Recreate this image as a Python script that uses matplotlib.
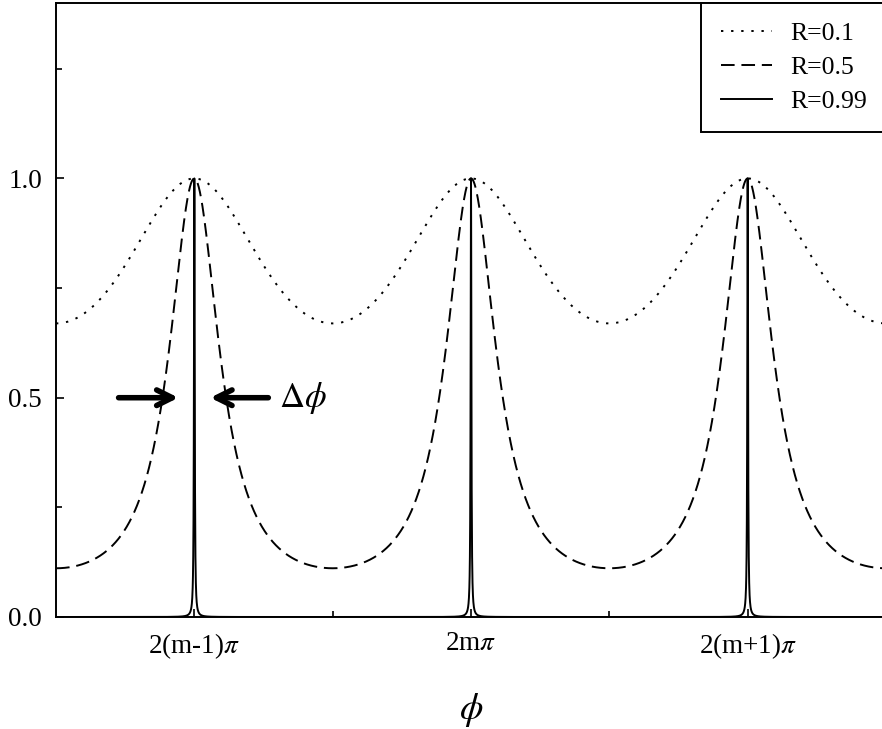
import numpy as np
import matplotlib
matplotlib.use("Agg")
import matplotlib.pyplot as plt

plt.rcParams['font.family'] = ['Liberation Serif', 'DejaVu Serif']
plt.rcParams['mathtext.fontset'] = 'stix'

# Data
reflectivities = [0.1, 0.5, 0.99]
labels = ["R=0.1", "R=0.5", "R=0.99"]
styles = [":", "--", "-"]
peak_positions = [0.0, 2 * np.pi, 4 * np.pi]
peak_labels = ["2(m-1)$\\pi$", "2m$\\pi$", "2(m+1)$\\pi$"]
yticks = [0.0, 0.5, 1.0]
ytick_labels = ["0.0", "0.5", "1.0"]

phi = np.linspace(-np.pi, 5 * np.pi, 6001)

fig = plt.figure(figsize=(8.82, 7.29), dpi=100)
ax = fig.add_axes([56 / 882, 1 - 617 / 729, 830 / 882, 614 / 729])

for R, lab, ls in zip(reflectivities, labels, styles):
    F = 4 * R / (1 - R) ** 2
    T = 1.0 / (1.0 + F * np.sin(phi / 2) ** 2)
    if ls == ":":
        ax.plot(phi, T, color="black", lw=1.4, linestyle=(0, (1.2, 4.0)), label=lab)
    elif ls == "--":
        ax.plot(phi, T, color="black", lw=1.4, linestyle=(0, (7, 3.5)), label=lab)
    else:
        ax.plot(phi, T, color="black", lw=1.4, linestyle="-", label=lab)

ax.set_xlim(-np.pi, 5 * np.pi)
ax.set_ylim(0, 1.4)
ax.set_xticks(peak_positions)
ax.set_xticklabels(peak_labels)
ax.set_xticks([np.pi, 3 * np.pi], minor=True)
ax.set_yticks(yticks)
ax.set_yticklabels(ytick_labels)
ax.set_yticks([0.25, 0.75, 1.25], minor=True)
ax.tick_params(axis="both", which="both", direction="in", labelsize=19.5, width=1.2)
ax.tick_params(axis="both", which="major", length=6, pad=10)
ax.tick_params(axis="both", which="minor", length=4)
for s in ax.spines.values():
    s.set_linewidth(1.4)

ax.set_xlabel("$\\phi$", fontsize=27, labelpad=22)

# FWHM arrows on first dashed peak
Rm = reflectivities[1]
Fm = 4 * Rm / (1 - Rm) ** 2
hw = 2 * np.arcsin(1 / np.sqrt(Fm))
x0 = peak_positions[0]
ap = dict(arrowstyle="->", lw=4, color="black", mutation_scale=28, shrinkA=0, shrinkB=0)
ax.annotate("", xy=(x0 - hw / 2, 0.5), xytext=(x0 - 1.72, 0.5), arrowprops=ap)
ax.annotate("", xy=(x0 + hw / 2, 0.5), xytext=(x0 + 1.68, 0.5), arrowprops=ap)
ax.text(x0 + 1.92, 0.5, "$\\Delta\\phi$", fontsize=25, va="center", ha="left")

leg = ax.legend(loc="upper right", fontsize=18.5, frameon=True, fancybox=False,
                edgecolor="black", framealpha=1, borderaxespad=0,
                handlelength=2.0, handletextpad=0.7, borderpad=0.75,
                labelspacing=0.42)
leg.get_frame().set_linewidth(1.4)

fig.savefig("out.png", dpi=100)
